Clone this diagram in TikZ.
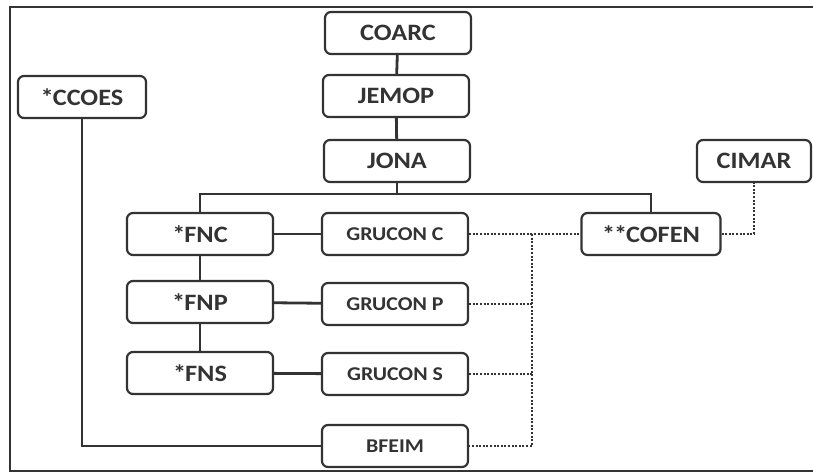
\documentclass[tikz,border=0pt]{standalone}
\usepackage{fontspec}
\setmainfont{Carlito}[FakeStretch=1.12]
\usetikzlibrary{calc}

\definecolor{ink}{HTML}{333333}
\tikzset{
  unit/.style={draw=ink, text=ink, rounded corners=6pt, line width=2.2pt,
    minimum width=146pt, minimum height=42pt, inner sep=0pt,
    font=\fontsize{23.5}{23.5}\selectfont\bfseries},
  gru/.style={unit, font=\fontsize{19.5}{19.5}\selectfont\bfseries},
  link/.style={draw=ink, line width=2.8pt},
  dotlink/.style={draw=ink, line width=2.8pt, dash pattern=on 2pt off 1.6pt}
}

\begin{document}
\begin{tikzpicture}[x=1pt,y=-1pt]
    \useasboundingbox (0,0) rectangle (813,474);
    \draw[ink, line width=2.4pt] (813,7) -- (10,7) -- (10,471) -- (813,471);

    \node[unit] (coarc) at (398,33) {COARC};
    \node[unit] (jemop) at (396,96) {JEMOP};
    \node[unit] (jona)  at (397,161) {JONA};
    \node[unit, minimum width=128pt] (ccoes) at (82,97) {*\kern-1ptCCOES};
    \node[unit, minimum width=114pt] (cimar) at (754,161) {CIMAR};

    \node[unit] (fnc) at (200,234) {*\kern-1ptFNC};
    \node[unit] (fnp) at (200,302) {*\kern-1ptFNP};
    \node[unit] (fns) at (200,373) {*\kern-1ptFNS};
    \node[gru] (grucc) at (395,234) {GRUCON C};
    \node[gru] (grucp) at (395,304) {GRUCON P};
    \node[gru] (grucs) at (395,374) {GRUCON S};
    \node[gru] (bfeim) at (395,446) {BFEIM};
    \node[unit, minimum width=139pt] (cofen) at (651,234) {*\kern-1pt*\kern-1ptCOFEN};

    \coordinate (split) at (397,194);
    \coordinate (bus) at (532,234);

    \draw[link] (coarc) -- (jemop);
    \draw[link] (jemop) -- (jona);
    \draw[link] (jona) -- (split);
    \draw[link] (fnc.north) |- (split) -| (cofen.north);
    \draw[link] (fnc) -- (grucc);
    \draw[link] (fnc) -- (fnp);
    \draw[link] (fnp) -- (fns);
    \draw[link] (fnp) -- (grucp);
    \draw[link] (fns) -- (grucs);
    \draw[link] (ccoes.south) |- (bfeim.west);

    \draw[dotlink] (grucc) -- (cofen);
    \draw[dotlink] (cofen.east) -| (cimar.south);
    \draw[dotlink] (bus) |- (bfeim.east);
    \draw[dotlink] (grucp.east) -- (grucp.east -| bus);
    \draw[dotlink] (grucs.east) -- (grucs.east -| bus);
\end{tikzpicture}
\end{document}
